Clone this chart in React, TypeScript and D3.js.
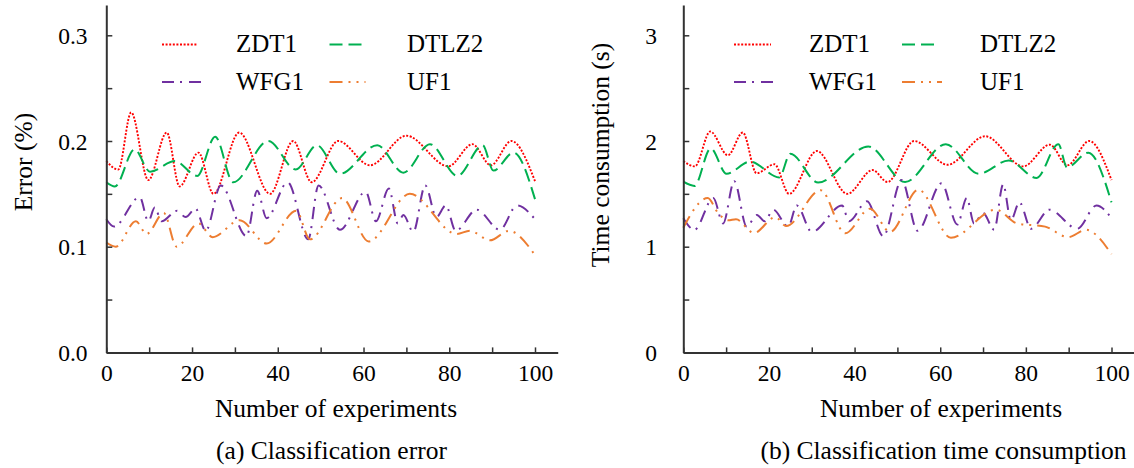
import React, { useEffect, useRef } from 'react';
import * as d3 from 'd3';

const FONT = "'Liberation Serif', 'Times New Roman', serif";

const seriesNames = ['ZDT1', 'DTLZ2', 'WFG1', 'UF1'];
const seriesColors = ['#ff0000', '#00b050', '#7030a0', '#ed7d31'];
const seriesDash = ['2,1.6', '13,6', '12,6,2,7', '13,6,2,6,2,6'];

const xTickValues = [0, 10, 20, 30, 40, 50, 60, 70, 80, 90, 100];
const xLabelValues = [0, 20, 40, 60, 80, 100];

const errYTickValues = [0, 0.05, 0.1, 0.15, 0.2, 0.25, 0.3];
const errYLabelValues = [0, 0.1, 0.2, 0.3];
const timeYTickValues = [0, 0.5, 1, 1.5, 2, 2.5, 3];
const timeYLabelValues = [0, 1, 2, 3];

// (a) Classification error
const errZdt1X = [0, 2.8, 5.8, 9.8, 14.1, 17.1, 21.5, 25, 31, 38.2, 43.6, 47.9, 54.1, 61.5, 70, 79.8, 85.4, 89.7, 94.5, 100];
const errZdt1Y = [0.181, 0.173, 0.227, 0.163, 0.208, 0.157, 0.189, 0.150, 0.208, 0.150, 0.200, 0.161, 0.200, 0.177, 0.205, 0.176, 0.197, 0.177, 0.200, 0.162];
const errDtlz2X = [0, 2, 6.6, 10.2, 16, 21.2, 25.4, 29.6, 37.8, 44.2, 49.1, 54.5, 63.2, 69.3, 75.5, 81.9, 87.8, 90.3, 95, 100];
const errDtlz2Y = [0.161, 0.157, 0.192, 0.171, 0.181, 0.167, 0.204, 0.161, 0.200, 0.173, 0.196, 0.169, 0.196, 0.170, 0.197, 0.167, 0.196, 0.172, 0.189, 0.145];
const errWfg1X = [0, 1.8, 7.8, 9.8, 11.3, 12.9, 16.5, 18.5, 20.8, 23.2, 26.7, 32.7, 35.2, 37.4, 42.3, 47.1, 49.5, 54.5, 60.5, 62.9, 65.9, 68, 69.3, 71.6, 74.4, 77, 79.2, 81.5, 86.4, 91.8, 95.8, 100];
const errWfg1Y = [0.126, 0.119, 0.147, 0.124, 0.137, 0.124, 0.134, 0.128, 0.136, 0.115, 0.158, 0.110, 0.153, 0.127, 0.161, 0.107, 0.158, 0.116, 0.152, 0.124, 0.155, 0.122, 0.130, 0.114, 0.158, 0.128, 0.139, 0.115, 0.135, 0.116, 0.139, 0.126];
const errUf1X = [0, 2.2, 6.9, 9.4, 13.4, 16.4, 21.5, 24.8, 31.1, 37.4, 44.3, 47.5, 55, 61.2, 70.8, 81.7, 84.8, 89.5, 93.9, 100];
const errUf1Y = [0.104, 0.100, 0.124, 0.112, 0.132, 0.100, 0.122, 0.109, 0.125, 0.103, 0.134, 0.107, 0.146, 0.105, 0.150, 0.112, 0.115, 0.106, 0.115, 0.092];

// (b) Classification time consumption
const timeZdt1X = [0, 2.7, 6.3, 10.4, 13.9, 17.1, 21.3, 24.7, 31.2, 38.3, 44.2, 47.7, 53.9, 61.7, 70.5, 79.4, 85.6, 89.7, 94.8, 100];
const timeZdt1Y = [1.81, 1.76, 2.09, 1.865, 2.08, 1.695, 1.78, 1.50, 1.905, 1.50, 1.725, 1.612, 2.00, 1.775, 2.045, 1.76, 1.965, 1.77, 2.00, 1.63];
const timeDtlz2X = [0, 2.6, 6.4, 10.1, 15.6, 22.4, 25, 31.5, 43.2, 51.8, 61.3, 69, 76, 82.5, 87.6, 89.6, 94.6, 100];
const timeDtlz2Y = [1.615, 1.575, 1.93, 1.69, 1.805, 1.655, 1.88, 1.607, 1.948, 1.612, 1.97, 1.69, 1.815, 1.65, 1.97, 1.75, 1.89, 1.42];
const timeWfg1X = [0, 2.6, 7.0, 9.3, 11.9, 14.8, 17.2, 19, 21, 24.5, 26.5, 30, 37.1, 38.7, 42.9, 46.7, 51, 54.7, 60.3, 64.0, 66.2, 67.9, 70, 72.6, 74.7, 76.5, 78.5, 81.2, 85.5, 92, 96.5, 100];
const timeWfg1Y = [1.27, 1.16, 1.46, 1.22, 1.62, 1.19, 1.30, 1.24, 1.35, 1.19, 1.39, 1.14, 1.39, 1.24, 1.43, 1.10, 1.63, 1.15, 1.60, 1.21, 1.46, 1.22, 1.32, 1.16, 1.59, 1.25, 1.42, 1.17, 1.35, 1.17, 1.39, 1.27];
const timeUf1X = [0, 5.7, 8.1, 10.5, 12.3, 16.5, 21.5, 24, 32.1, 37.8, 43.6, 48.3, 54.9, 62.5, 73, 78, 84.5, 89.9, 94, 100];
const timeUf1Y = [1.18, 1.46, 1.32, 1.25, 1.26, 1.13, 1.28, 1.195, 1.535, 1.127, 1.36, 1.14, 1.54, 1.085, 1.35, 1.22, 1.19, 1.09, 1.16, 0.93];

type PanelCfg = {
  x0: number;
  kx: number;
  yUnit: number;
  yTickValues: number[];
  yLabelValues: number[];
  yFormat: (v: number) => string;
  yLabelRight: number;
  yTitle: string;
  yTitleX: number;
  yTitleY: number;
  xTitleX: number;
  caption: string;
  captionX: number;
  series: { xs: number[]; ys: number[] }[];
  legendLineX: number[];
  legendLineLen: number[];
  legendTextX: number[];
};

const AXIS_Y0 = 352.4;
const AXIS_TOP = 5;

function drawPanel(svg: d3.Selection<SVGSVGElement, unknown, null, undefined>, cfg: PanelCfg) {
  const g = svg.append('g');
  const xMax = 105.3;
  const x = d3.scaleLinear().domain([0, xMax]).range([cfg.x0, cfg.x0 + xMax * cfg.kx]);
  const yMax = (AXIS_Y0 - AXIS_TOP) / cfg.yUnit;
  const y = d3.scaleLinear().domain([0, yMax]).range([AXIS_Y0, AXIS_TOP]);

  // curves
  cfg.series.forEach((s, k) => {
    const gen = d3
      .line<number>()
      .x((_, i) => x(s.xs[i]))
      .y((d) => y(d))
      .curve(d3.curveMonotoneX);
    g.append('path')
      .attr('d', gen(s.ys) || '')
      .attr('fill', 'none')
      .attr('stroke', seriesColors[k])
      .attr('stroke-width', k === 0 ? 1.9 : 2)
      .attr('stroke-dasharray', seriesDash[k]);
  });

  // x axis
  const gx = g
    .append('g')
    .attr('transform', `translate(0,${AXIS_Y0})`)
    .call(
      d3
        .axisBottom(x)
        .tickValues(xTickValues)
        .tickSizeInner(-5)
        .tickSizeOuter(0)
        .tickFormat((d) => (xLabelValues.includes(+d) ? String(d) : ''))
    );
  gx.attr('font-family', FONT).attr('font-size', 23.5);
  gx.select('.domain').attr('stroke', '#333').attr('stroke-width', 2);
  gx.selectAll('.tick line').attr('stroke', '#333').attr('stroke-width', 1.5);
  gx.selectAll('.tick text')
    .attr('fill', '#000')
    .style('font-family', FONT)
    .attr('dy', null)
    .attr('y', 381 - AXIS_Y0);

  // y axis
  const gy = g
    .append('g')
    .attr('transform', `translate(${cfg.x0},0)`)
    .call(
      d3
        .axisLeft(y)
        .tickValues(cfg.yTickValues)
        .tickSizeInner(-6)
        .tickSizeOuter(0)
        .tickFormat((d) => (cfg.yLabelValues.some((v) => Math.abs(v - +d) < 1e-9) ? cfg.yFormat(+d) : ''))
    );
  gy.attr('font-family', FONT).attr('font-size', 23.5);
  gy.select('.domain').attr('stroke', '#333').attr('stroke-width', 2);
  gy.selectAll('.tick line').attr('stroke', '#333').attr('stroke-width', 1.5);
  gy.selectAll('.tick text')
    .attr('fill', '#000')
    .style('font-family', FONT)
    .attr('x', cfg.yLabelRight - cfg.x0)
    .attr('dy', '0.34em');

  // legend
  const rowY = [44.5, 44.5, 82, 82];
  const textBase = [52.3, 52.3, 90, 90];
  seriesNames.forEach((name, k) => {
    g.append('line')
      .attr('x1', cfg.legendLineX[k])
      .attr('x2', cfg.legendLineX[k] + cfg.legendLineLen[k])
      .attr('y1', rowY[k])
      .attr('y2', rowY[k])
      .attr('stroke', seriesColors[k])
      .attr('stroke-width', k === 0 ? 1.9 : 2)
      .attr('stroke-dasharray', seriesDash[k]);
    g.append('text')
      .attr('x', cfg.legendTextX[k])
      .attr('y', textBase[k])
      .style('font-family', FONT)
      .attr('font-size', 25)
      .attr('fill', '#000')
      .text(name);
  });

  // titles
  g.append('text')
    .attr('transform', `translate(${cfg.yTitleX},${cfg.yTitleY}) rotate(-90)`)
    .attr('text-anchor', 'middle')
    .attr('dominant-baseline', 'central')
    .style('font-family', FONT)
    .attr('font-size', 25.5)
    .attr('fill', '#000')
    .text(cfg.yTitle);
  g.append('text')
    .attr('x', cfg.xTitleX)
    .attr('y', 416.5)
    .attr('text-anchor', 'middle')
    .style('font-family', FONT)
    .attr('font-size', 25.5)
    .attr('fill', '#000')
    .text('Number of experiments');
  g.append('text')
    .attr('x', cfg.captionX)
    .attr('y', 458.5)
    .attr('text-anchor', 'middle')
    .style('font-family', FONT)
    .attr('font-size', 25.5)
    .attr('fill', '#000')
    .text(cfg.caption);
}

export default function App() {
  const ref = useRef<SVGSVGElement>(null);
  useEffect(() => {
    if (!ref.current) return;
    const svg = d3.select(ref.current);
    svg.selectAll('*').remove();
    drawPanel(svg, {
      x0: 106.3,
      kx: 4.287,
      yUnit: 1057,
      yTickValues: errYTickValues,
      yLabelValues: errYLabelValues,
      yFormat: d3.format('.1f'),
      yLabelRight: 87.5,
      yTitle: 'Error (%)',
      yTitleX: 23,
      yTitleY: 162,
      xTitleX: 336,
      caption: '(a) Classification error',
      captionX: 331.5,
      series: [
        { xs: errZdt1X, ys: errZdt1Y },
        { xs: errDtlz2X, ys: errDtlz2Y },
        { xs: errWfg1X, ys: errWfg1Y },
        { xs: errUf1X, ys: errUf1Y },
      ],
      legendLineX: [162, 329.5, 162, 329.5],
      legendLineLen: [36, 32, 39, 36],
      legendTextX: [236, 407, 236, 407],
    });
    drawPanel(svg, {
      x0: 683.3,
      kx: 4.282,
      yUnit: 105.7,
      yTickValues: timeYTickValues,
      yLabelValues: timeYLabelValues,
      yFormat: d3.format('d'),
      yLabelRight: 657,
      yTitle: 'Time consumption (s)',
      yTitleX: 600,
      yTitleY: 155,
      xTitleX: 941,
      caption: '(b) Classification time consumption',
      captionX: 943.5,
      series: [
        { xs: timeZdt1X, ys: timeZdt1Y },
        { xs: timeDtlz2X, ys: timeDtlz2Y },
        { xs: timeWfg1X, ys: timeWfg1Y },
        { xs: timeUf1X, ys: timeUf1Y },
      ],
      legendLineX: [734, 902, 734, 902],
      legendLineLen: [37, 32, 40, 40],
      legendTextX: [809, 980, 809, 980],
    });
  }, []);
  return (
    <svg
      ref={ref}
      width={1134}
      height={468}
      style={{ position: 'absolute', left: 0, top: 0, background: '#fff' }}
    />
  );
}
